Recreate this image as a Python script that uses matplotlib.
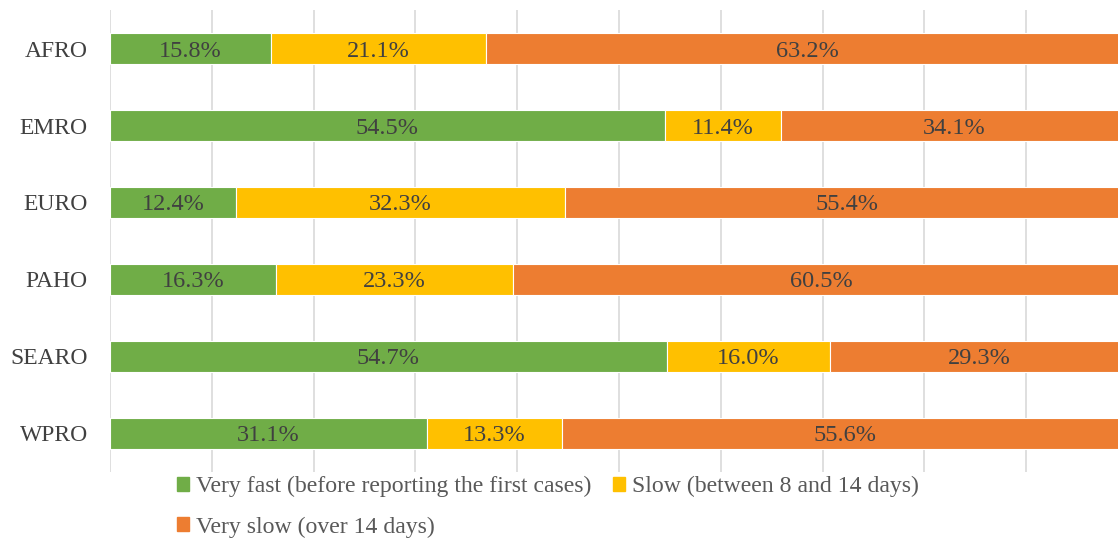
import numpy as np
import matplotlib.pyplot as plt
from matplotlib.patches import Patch

plt.rcParams['font.family'] = ['Liberation Serif', 'DejaVu Serif']

regions = ['AFRO', 'EMRO', 'EURO', 'PAHO', 'SEARO', 'WPRO']
very_fast = [15.8, 54.5, 12.4, 16.3, 54.7, 31.1]
slow = [21.1, 11.4, 32.3, 23.3, 16.0, 13.3]
very_slow = [63.2, 34.1, 55.4, 60.5, 29.3, 55.6]

series = [
    ('Very fast (before reporting the first cases)', very_fast, '#70AD47'),
    ('Slow (between 8 and 14 days)', slow, '#FFC000'),
    ('Very slow (over 14 days)', very_slow, '#ED7D31'),
]

fig = plt.figure(figsize=(11.18, 5.38), dpi=100)
# axes runs slightly past the right edge, like the cropped original
ax = fig.add_axes([0.0984, 0.1227, 0.9106, 0.8587])

y = np.arange(len(regions))
left = np.zeros(len(regions))
handles = []
for name, vals, col in series:
    vals = np.array(vals)
    ax.barh(y, vals, left=left, height=0.4, color=col, edgecolor='white',
            linewidth=0.8, zorder=3)
    for yi, l, v in zip(y, left, vals):
        ax.text(l + v / 2, yi, f'{v:.1f}%', ha='center', va='center_baseline',
                fontsize=17.5, color='#404040', zorder=4)
    left += vals
    handles.append(Patch(color=col, label=name))

ax.set_xlim(0, 100)
ax.set_ylim(5.5, -0.5)
ax.set_xticks(np.arange(0, 101, 10))
ax.xaxis.grid(True, color='#D9D9D9', linewidth=1.2, zorder=0)
ax.tick_params(axis='x', length=0, labelbottom=False)
ax.set_yticks(y)
ax.set_yticklabels(regions, fontsize=17, color='#404040')
ax.tick_params(axis='y', length=0, pad=16)
for s in ax.spines.values():
    s.set_visible(False)

fig.legend(handles=[handles[0], handles[2], handles[1]], ncol=2,
           loc='upper left', bbox_to_anchor=(0.148, 0.137), frameon=False,
           fontsize=17.1, labelcolor='#595959', handlelength=0.5,
           handleheight=0.5, handletextpad=0.3, columnspacing=0.9,
           labelspacing=0.8, borderpad=0)

fig.savefig('out.png', dpi=100)
